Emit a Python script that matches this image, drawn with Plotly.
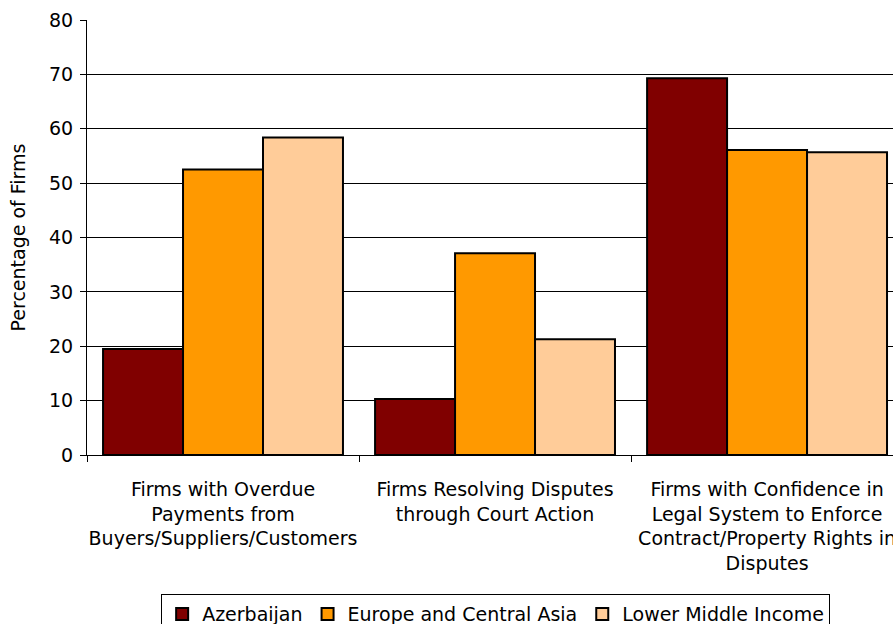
import plotly.graph_objects as go

# Category labels (wrapped onto several lines)
categories = [
    "Firms with Overdue<br>Payments from<br>Buyers/Suppliers/Customers",
    "Firms Resolving Disputes<br>through Court Action",
    "Firms with Confidence in<br>Legal System to Enforce<br>Contract/Property Rights in<br>Disputes",
]

azerbaijan = [19.5, 10.3, 69.3]
europe_central_asia = [52.5, 37.1, 56.1]
lower_middle_income = [58.4, 21.3, 55.7]

y_ticks = [0, 10, 20, 30, 40, 50, 60, 70, 80]

FONT = "DejaVu Sans"
SIZE = 19

series = [
    ("Azerbaijan", azerbaijan, "#800000"),
    ("Europe and Central Asia", europe_central_asia, "#FF9900"),
    ("Lower Middle Income", lower_middle_income, "#FFCC99"),
]

fig = go.Figure()
for name, values, color in series:
    fig.add_trace(
        go.Bar(
            name=name,
            x=categories,
            y=values,
            marker=dict(color=color, line=dict(color="black", width=2)),
        )
    )

fig.update_layout(
    width=893,
    height=624,
    margin=dict(l=87, r=0, t=20, b=169, autoexpand=False),
    paper_bgcolor="white",
    plot_bgcolor="white",
    barmode="group",
    bargap=0.118,
    bargroupgap=0,
    font=dict(family=FONT, size=SIZE, color="black"),
    showlegend=True,
    legend=dict(
        orientation="h",
        x=0.507,
        xanchor="center",
        y=-0.320,
        yanchor="top",
        bgcolor="white",
        bordercolor="black",
        borderwidth=1,
        font=dict(family=FONT, size=SIZE, color="black"),
        traceorder="normal",
    ),
)

fig.update_xaxes(
    type="category",
    range=[-0.5, 2.463],
    showgrid=False,
    showline=True,
    linecolor="black",
    linewidth=1,
    ticks="outside",
    tickson="boundaries",
    ticklen=6,
    tickcolor="black",
    tickangle=0,
    ticklabelstandoff=17,
    ticklabeloverflow="allow",
    automargin=False,
    zeroline=False,
)

fig.update_yaxes(
    range=[0, 80],
    tickmode="array",
    tickvals=y_ticks,
    ticktext=[str(v) for v in y_ticks],
    showgrid=True,
    gridcolor="black",
    gridwidth=1,
    showline=True,
    linecolor="black",
    linewidth=1,
    ticks="outside",
    ticklen=6,
    tickcolor="black",
    ticklabelstandoff=3,
    automargin=False,
    zeroline=False,
    title=dict(text="Percentage of Firms", font=dict(family=FONT, size=SIZE), standoff=18),
)

fig.write_html("out.html")
